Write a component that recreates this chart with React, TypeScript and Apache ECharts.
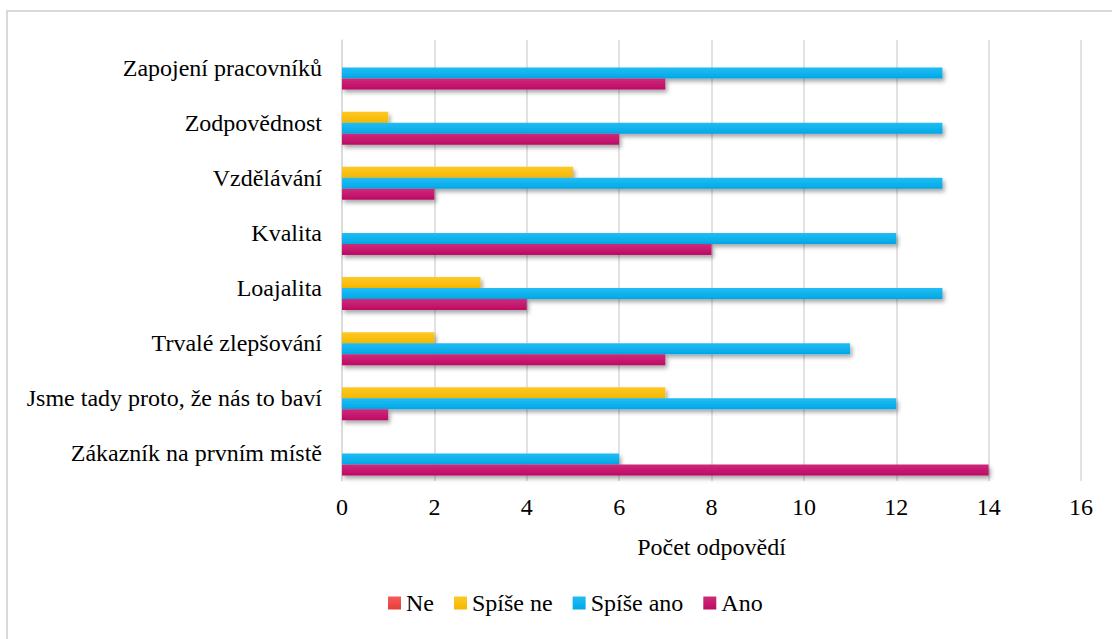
import React, { useEffect, useRef } from "react";
import * as echarts from "echarts";

const categories = [
  "Zákazník na prvním místě",
  "Jsme tady proto, že nás to baví",
  "Trvalé zlepšování",
  "Loajalita",
  "Kvalita",
  "Vzdělávání",
  "Zodpovědnost",
  "Zapojení pracovníků",
];
const seriesNames = ["Ne", "Spíše ne", "Spíše ano", "Ano"];
const ne = [0, 0, 0, 0, 0, 0, 0, 0];
const spiseNe = [0, 7, 2, 3, 0, 5, 1, 0];
const spiseAno = [6, 12, 11, 13, 12, 13, 13, 13];
const ano = [14, 1, 7, 4, 8, 2, 6, 7];
const colorsTop = ["#F65A5A", "#FFC826", "#22BCF4", "#CE2A7A"];
const colorsBottom = ["#E83C3C", "#F5B800", "#00A8E6", "#BC0A64"];
const xTicks = { min: 0, max: 16, interval: 2 };

export default function App() {
  const ref = useRef<HTMLDivElement>(null);
  useEffect(() => {
    if (!ref.current) return;
    const chart = echarts.init(ref.current, undefined, { renderer: "svg" });
    const values = [ne, spiseNe, spiseAno, ano];
    const font = "Liberation Serif";
    const txt = { fontFamily: font, fontSize: 24, color: "#000" };
    chart.setOption({
      animation: false,
      textStyle: { fontFamily: font },
      grid: { left: 342, right: 31, top: 40, bottom: 158 },
      legend: {
        data: seriesNames,
        bottom: 19,
        left: 383,
        itemWidth: 13,
        itemHeight: 13,
        itemGap: 20,
        icon: "rect",
        textStyle: { ...txt },
      },
      xAxis: {
        type: "value",
        min: xTicks.min,
        max: xTicks.max,
        interval: xTicks.interval,
        name: "Počet odpovědí",
        nameLocation: "middle",
        nameGap: 54,
        nameTextStyle: { ...txt },
        axisLabel: { ...txt, margin: 14 },
        axisLine: { show: false },
        axisTick: { show: false },
        splitLine: { lineStyle: { color: "#d9d9d9", width: 1.5 } },
      },
      yAxis: {
        type: "category",
        data: categories,
        axisLabel: { ...txt, margin: 20 },
        axisLine: { show: true, lineStyle: { color: "#d9d9d9", width: 1.5 } },
        axisTick: { show: false },
      },
      series: seriesNames.map((name, i) => ({
        name,
        type: "bar",
        data: values[i],
        barGap: "0%",
        barCategoryGap: "20%",
        itemStyle: {
          color: new echarts.graphic.LinearGradient(0, 0, 0, 1, [
            { offset: 0, color: colorsTop[i] },
            { offset: 1, color: colorsBottom[i] },
          ]),
          shadowColor: "rgba(0,0,0,0.35)",
          shadowBlur: 4,
          shadowOffsetX: 2,
          shadowOffsetY: 3,
        },
      })),
    });
    return () => chart.dispose();
  }, []);
  return (
    <div style={{ position: "fixed", left: 0, top: 0, width: 1112, height: 639, background: "#fff" }}>
      <div
        style={{
          position: "absolute",
          left: 6,
          top: 10,
          width: 1200,
          height: 700,
          border: "2px solid #d9d9d9",
        }}
      />
      <div ref={ref} style={{ position: "absolute", left: 0, top: 0, width: 1112, height: 639 }} />
    </div>
  );
}
